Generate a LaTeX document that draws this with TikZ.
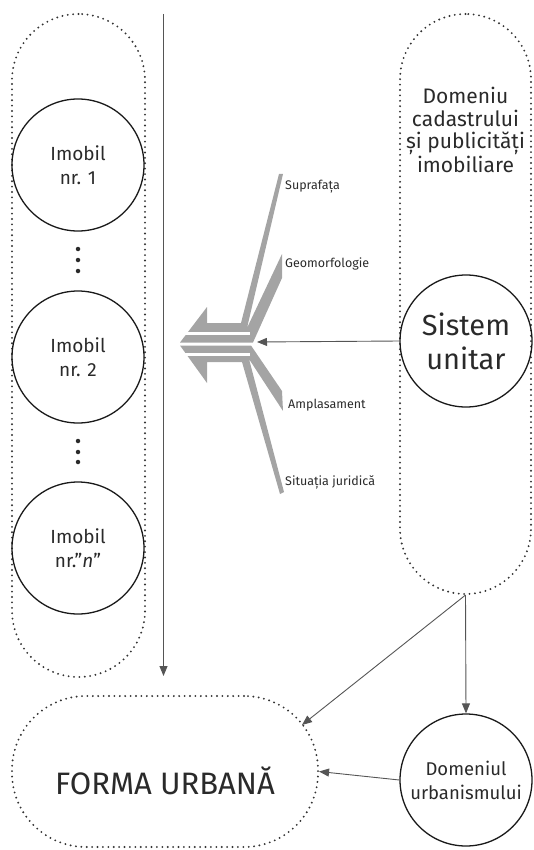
\documentclass[tikz,border=0pt]{standalone}
\usepackage{fontspec}
\setmainfont{Fira Sans}
\usetikzlibrary{arrows.meta}
\definecolor{txt}{HTML}{2A2A2A}
\definecolor{fish}{HTML}{A4A4A4}
\definecolor{conn}{HTML}{555555}
\tikzset{
  dotcap/.style={draw=black!80, line width=2.1pt, dash pattern=on 0pt off 5.4pt, line cap=round, rectangle, inner sep=0pt},
  ring/.style={circle, draw=black!90, line width=1.3pt, minimum size=132pt, inner sep=0pt, align=center, text=txt},
  conarrow/.style={draw=conn, line width=0.9pt, -{Triangle[length=10pt,width=8pt]}},
  lbl/.style={anchor=west, text=txt, font=\fontsize{12.5}{14}\selectfont, inner sep=0pt},
  vdot/.style={circle, fill=txt, inner sep=0pt, minimum size=4.5pt}
}
\begin{document}
\begin{tikzpicture}[x=1pt,y=-1pt]
\useasboundingbox (0,0) rectangle (533,850);
% capsules
\node[dotcap, minimum width=133pt, minimum height=663pt, rounded corners=66.5pt] (lcap) at (78.5,345.5) {};
\node[dotcap, minimum width=131pt, minimum height=580pt, rounded corners=65.5pt] (rcap) at (465.5,304) {};
\node[dotcap, minimum width=306pt, minimum height=151pt, rounded corners=74pt] (forma) at (165,771.5) {};
\node[text=txt, font=\fontsize{31}{36}\selectfont] (formatxt) at (165,781) {FORMA URBANĂ};
% imobil circles
\node[ring, font=\fontsize{19}{24}\selectfont] (i1) at (78,165) {Imobil\\nr. 1};
\node[ring, font=\fontsize{19}{24}\selectfont] (i2) at (78,357) {Imobil\\nr. 2};
\node[ring, font=\fontsize{19}{24}\selectfont] (in) at (78,548) {Imobil\\nr.”\textit{n}”};
\node[vdot] (d1) at (78,249) {};
\node[vdot] (d2) at (78,260) {};
\node[vdot] (d3) at (78,271) {};
\node[vdot] (d4) at (78,441) {};
\node[vdot] (d5) at (78,452) {};
\node[vdot] (d6) at (78,462) {};
% right side
\node[text=txt, align=center, font=\fontsize{21}{22.3}\selectfont] (dom) at (465.5,130) {Domeniu\\cadastrului\\și publicități\\imobiliare};
\node[ring, font=\fontsize{29}{34}\selectfont] (sist) at (466,341) {Sistem\\unitar};
\node[ring, font=\fontsize{18.5}{24}\selectfont] (urb) at (466,780) {Domeniul\\urbanismului};
% fishbone arrows
\fill[fish] (180,342.5) -- (207,307) -- (207,323) -- (241,323) -- (279,174) -- (283,174) -- (247,328) -- (282,254) -- (282,278) -- (253,342.5) -- cycle;
\fill[fish] (180,345.5) -- (251,345.5) -- (282,391) -- (283,411) -- (249,359) -- (284,492) -- (280,494) -- (242,362) -- (207,362) -- (207,383) -- cycle;
\draw[white, line width=2.4pt] (182,333.5) -- (250,333.5);
\draw[white, line width=2.6pt] (182,354.5) -- (250,354.5);
\node[lbl] (l1) at (285,187) {Suprafața};
\node[lbl] (l2) at (285,264) {Geomorfologie};
\node[lbl] (l3) at (288,405) {Amplasament};
\node[lbl] (l4) at (285,482) {Situația juridică};
% connectors
\coordinate (vtop) at (163.5,14);
\coordinate (vbot) at (163.5,676);
\coordinate (fishpt) at (257,342);
\coordinate (fcorner) at (302,725);
\draw[conarrow] (vtop) -- (vbot);
\draw[conarrow] (sist.west) -- (fishpt);
\draw[conarrow] (rcap.south) -- (urb.north);
\draw[conarrow] (rcap.south) -- (fcorner);
\draw[conarrow] (urb.west) -- (forma.east);
\end{tikzpicture}
\end{document}
